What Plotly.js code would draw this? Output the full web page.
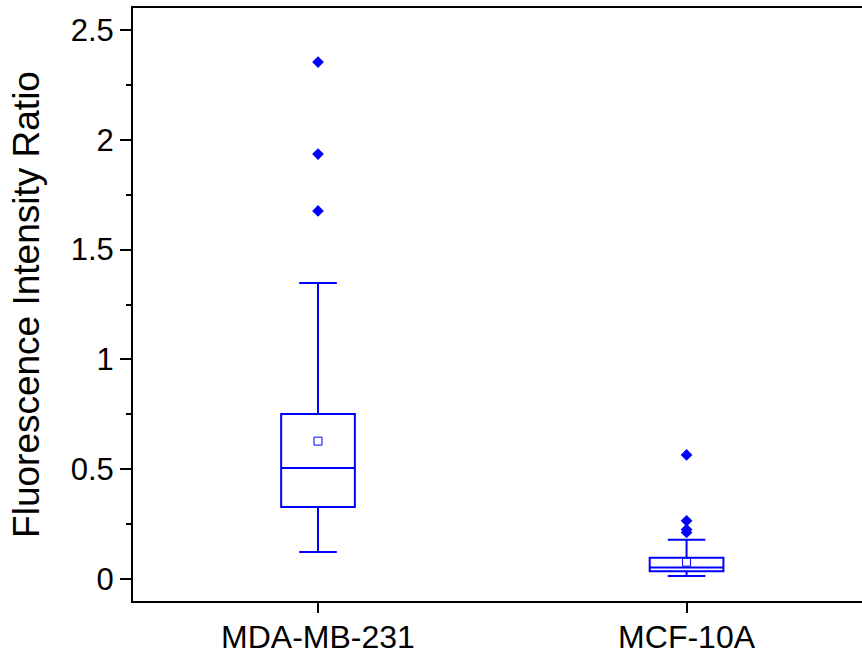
<!DOCTYPE html>
<html>
<head>
<meta charset="utf-8">
<script src="https://cdn.plot.ly/plotly-3.0.1.min.js"></script>
<style>html,body{margin:0;padding:0;background:#fff;overflow:hidden}</style>
</head>
<body>
<div id="chart" style="width:862px;height:656px"></div>
<script>
// ---- data ----
const categories = ["MDA-MB-231", "MCF-10A"];
const catPos = [0, 1];
const q1 = [0.328, 0.035];
const medians = [0.505, 0.053];
const q3 = [0.751, 0.097];
const lowerWhisker = [0.123, 0.014];
const upperWhisker = [1.348, 0.179];
const means = [0.628, 0.077];
const outlierX = [0, 0, 0, 1, 1, 1, 1];
const outlierY = [2.354, 1.935, 1.676, 0.565, 0.265, 0.225, 0.212];
const yTickVals = [0, 0.5, 1, 1.5, 2, 2.5];

const blue = "#0000FF";

const traces = [
  {
    type: "box",
    x: catPos,
    q1: q1,
    median: medians,
    q3: q3,
    lowerfence: lowerWhisker,
    upperfence: upperWhisker,
    width: 0.2,
    whiskerwidth: 0.51,
    boxpoints: false,
    line: {color: blue, width: 2},
    fillcolor: "rgba(0,0,0,0)",
    showlegend: false,
    hoverinfo: "skip"
  },
  {
    type: "scatter",
    mode: "markers",
    x: catPos,
    y: means,
    marker: {symbol: "square-open", size: 8, color: blue, line: {width: 1, color: blue}},
    showlegend: false,
    hoverinfo: "skip"
  },
  {
    type: "scatter",
    mode: "markers",
    x: outlierX,
    y: outlierY,
    marker: {symbol: "diamond", size: 9, color: blue},
    showlegend: false,
    hoverinfo: "skip"
  }
];

const layout = {
  width: 862,
  height: 656,
  margin: {l: 133, r: 0, t: 8, b: 55, pad: 0},
  paper_bgcolor: "#fff",
  plot_bgcolor: "#fff",
  font: {family: "Liberation Sans, Arial, sans-serif", color: "#000"},
  xaxis: {
    type: "linear",
    range: [-0.502, 1.476],
    tickvals: catPos,
    ticktext: categories,
    ticks: "outside",
    ticklen: 10,
    tickwidth: 2,
    tickcolor: "#000",
    ticklabelstandoff: -3,
    showline: true,
    linewidth: 2,
    linecolor: "#000",
    mirror: true,
    showgrid: false,
    zeroline: false,
    tickfont: {size: 32, color: "#000"}
  },
  yaxis: {
    range: [-0.1, 2.6],
    tickvals: yTickVals,
    ticks: "outside",
    ticklen: 11,
    tickwidth: 2,
    tickcolor: "#000",
    minor: {dtick: 0.25, ticks: "outside", ticklen: 5, tickwidth: 2, tickcolor: "#000", showgrid: false},
    showline: true,
    linewidth: 2,
    linecolor: "#000",
    showgrid: false,
    zeroline: false,
    tickfont: {size: 31, color: "#000"},
    title: {text: "Fluorescence Intensity Ratio", font: {size: 37, color: "#000"}, standoff: 20}
  }
};

Plotly.newPlot("chart", traces, layout, {staticPlot: true, displayModeBar: false});
</script>
</body>
</html>
